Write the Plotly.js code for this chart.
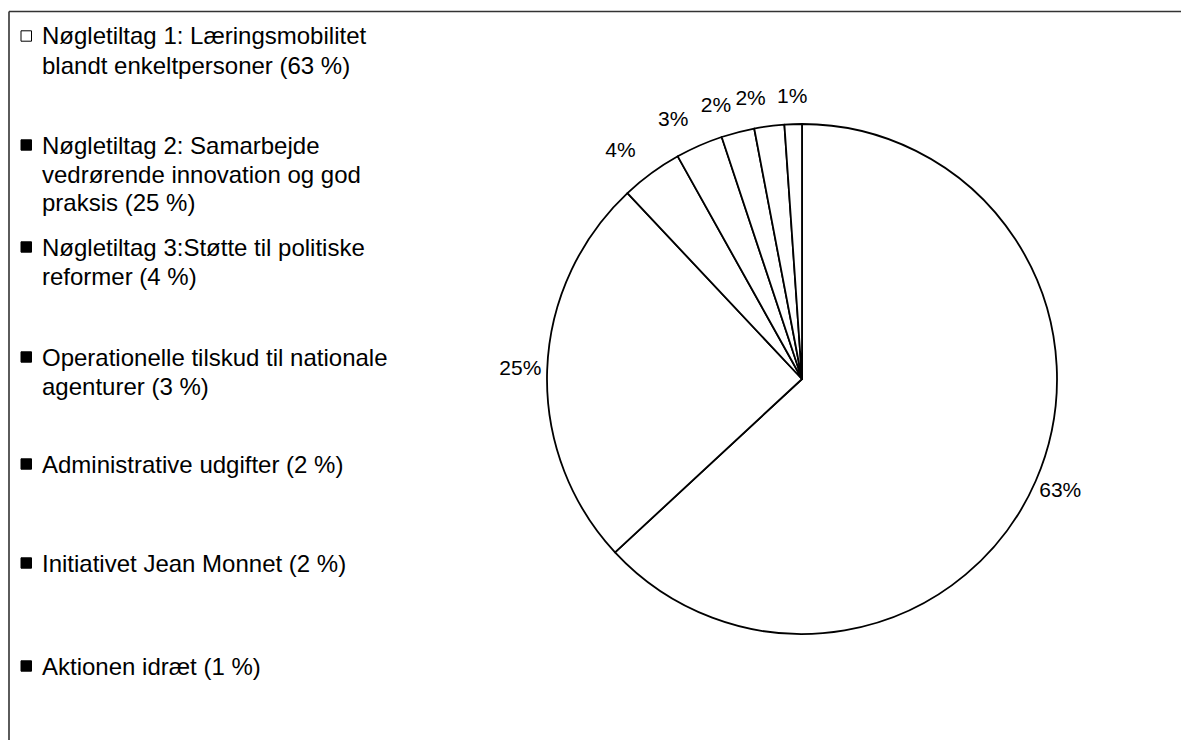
<!DOCTYPE html>
<html>
<head>
<meta charset="utf-8">
<script src="https://cdn.plot.ly/plotly-3.0.1.min.js"></script>
<style>html,body{margin:0;padding:0;background:#fff;}#chart{width:1181px;height:740px;}</style>
</head>
<body>
<div id="chart"></div>
<script>
// ---- data ----
const labels = [
  "Nøgletiltag 1: Læringsmobilitet<br>blandt enkeltpersoner (63 %)",
  "Nøgletiltag 2: Samarbejde<br>vedrørende innovation og god<br>praksis (25 %)",
  "Nøgletiltag 3:Støtte til politiske<br>reformer (4 %)",
  "Operationelle tilskud til nationale<br>agenturer (3 %)",
  "Administrative udgifter (2 %)",
  "Initiativet Jean Monnet (2 %)",
  "Aktionen idræt (1 %)"
];
const values = [63.1, 24.9, 3.9, 3.0, 2.1, 1.9, 1.1];
const swatchFilled = [false, true, true, true, true, true, true];

// ---- layout constants (pixels) ----
const W = 1181, H = 740;
const FONT = "Arial, 'Liberation Sans', sans-serif";
const legendItemY = [36, 145, 247, 357, 464, 563, 666];
const legendLineGap = 29;
const pieCx = 802, pieCy = 379, pieR = 255;
const polarScale = 1.2;      // polar radial range, in pie radii
const labelRadius = 1.105;   // data-label distance, in pie radii

const px = x => x / W;
const py = y => 1 - y / H;

const annotations = [];
const shapes = [
  {type: "line", xref: "paper", yref: "paper", x0: px(9), x1: 1, y0: py(11.5), y1: py(11.5), line: {color: "#333", width: 1.6}},
  {type: "line", xref: "paper", yref: "paper", x0: px(9), x1: px(9), y0: py(11.5), y1: 0, line: {color: "#333", width: 1.6}}
];

labels.forEach((lab, i) => {
  const lines = lab.split("<br>");
  lines.forEach((ln, j) => {
    annotations.push({
      xref: "paper", yref: "paper", x: px(40), y: py(legendItemY[i] + j * legendLineGap),
      xanchor: "left", yanchor: "middle", showarrow: false, text: ln,
      font: {family: FONT, size: 24, color: "#000"}
    });
  });
  const cy = legendItemY[i];
  shapes.push({
    type: "rect", xref: "paper", yref: "paper",
    x0: px(21), x1: px(31.5), y0: py(cy - 5.2), y1: py(cy + 5.2),
    fillcolor: swatchFilled[i] ? "#000" : "#fff",
    line: {color: "#000", width: 1}
  });
});

// pie slices
const pie = {
  type: "pie",
  labels: labels,
  values: values,
  sort: false,
  direction: "clockwise",
  rotation: 0,
  textposition: "none",
  marker: {colors: labels.map(() => "#fff"), line: {color: "#000", width: 1.8}},
  showlegend: false,
  hoverinfo: "label+percent",
  domain: {x: [px(pieCx - pieR), px(pieCx + pieR)], y: [py(pieCy + pieR), py(pieCy - pieR)]},
  automargin: false
};

// data labels: placed at each slice's mid-angle on a hidden polar axis
const total = values.reduce((a, b) => a + b, 0);
let acc = 0;
const midAngles = values.map(v => { const m = (acc + v / 2) / total * 360; acc += v; return m; });
const pctText = values.map(v => Math.round(v / total * 100) + "%");
// upper-left labels hang to the left of their anchor point, others are centred
const labelPos = midAngles.map(a => (a > 300 && a < 356) ? "middle left" : "middle center");

const labelsTrace = {
  type: "scatterpolar",
  mode: "text",
  theta: midAngles,
  r: values.map(() => labelRadius),
  text: pctText,
  textposition: labelPos,
  textfont: {family: FONT, size: 21, color: "#000"},
  cliponaxis: false,
  showlegend: false,
  hoverinfo: "skip",
  subplot: "polar"
};

const PR = pieR * polarScale;
const layout = {
  width: W, height: H,
  margin: {l: 0, r: 0, t: 0, b: 0},
  paper_bgcolor: "#fff",
  showlegend: false,
  font: {family: FONT, color: "#000"},
  polar: {
    domain: {x: [px(pieCx - PR), px(pieCx + PR)], y: [py(pieCy + PR), py(pieCy - PR)]},
    bgcolor: "rgba(0,0,0,0)",
    radialaxis: {range: [0, polarScale], visible: false, showgrid: false},
    angularaxis: {rotation: 90, direction: "clockwise", visible: false, showgrid: false}
  },
  annotations: annotations,
  shapes: shapes
};

Plotly.newPlot("chart", [pie, labelsTrace], layout, {displayModeBar: false, staticPlot: true});
</script>
</body>
</html>
